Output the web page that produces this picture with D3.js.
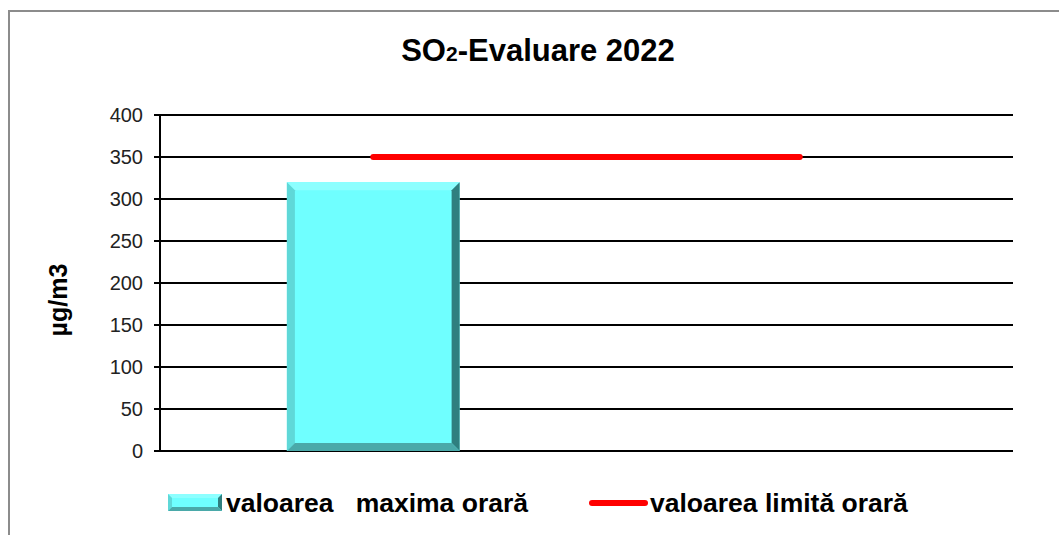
<!DOCTYPE html>
<meta charset="utf-8">
<style type="text/css">
body { margin: 0; background: #fff; }
svg text { font-family: 'Liberation Sans', Arial, sans-serif; fill: #000; }
.tick-label { font-size: 20px; fill: #222; }
.g-hed { font-size: 31px; font-weight: bold; }
.legend-text { font-size: 26.5px; font-weight: bold; }
</style>
<script src="https://cdnjs.cloudflare.com/ajax/libs/d3/7.8.5/d3.min.js"></script>
<body>
<div class="g-chart"></div>
<script type="text/javascript">

//Chart data
var categories = ["A", "B"];
var maxValues = [320, null];
var limitValues = [350, 350];
var yTicks = [0, 50, 100, 150, 200, 250, 300, 350, 400];
var seriesNames = ["valoarea   maxima orară", "valoarea limită orară"];

var width = 1059, height = 535;
var plot = {left: 160, right: 1013, top: 115, bottom: 451};

var svg = d3.select(".g-chart").append("svg")
  .attr("width", width)
  .attr("height", height);

//Frame (only left and top edges visible)
svg.append("rect")
  .attr("x", 9).attr("y", 11)
  .attr("width", 1100).attr("height", 600)
  .attr("fill", "#fff")
  .attr("stroke", "#8c8c8c")
  .attr("stroke-width", 2);

//Scales
var x = d3.scaleBand().domain(categories).range([plot.left, plot.right]);
var y = d3.scaleLinear().domain([0, 400]).range([plot.bottom, plot.top]);

//Title
var hed = svg.append("text")
  .attr("class", "g-hed")
  .attr("x", 538).attr("y", 61)
  .attr("text-anchor", "middle");
hed.append("tspan").text("SO");
hed.append("tspan").attr("font-size", "21px").text("2");
hed.append("tspan").text("-Evaluare 2022");

//Gridlines
svg.append("g")
  .selectAll("line")
  .data(yTicks)
  .enter().append("line")
  .attr("x1", plot.left - 6)
  .attr("x2", plot.right)
  .attr("y1", function(d) { return y(d); })
  .attr("y2", function(d) { return y(d); })
  .attr("stroke", "#000")
  .attr("stroke-width", 2);

//Tick labels
svg.append("g")
  .selectAll("text")
  .data(yTicks)
  .enter().append("text")
  .attr("class", "tick-label")
  .attr("x", plot.left - 17)
  .attr("y", function(d) { return y(d) + 7; })
  .attr("text-anchor", "end")
  .text(function(d) { return d; });

//Y axis line
svg.append("line")
  .attr("x1", plot.left).attr("x2", plot.left)
  .attr("y1", y(400)).attr("y2", y(0))
  .attr("stroke", "#000")
  .attr("stroke-width", 2);

//Y axis title
svg.append("text")
  .attr("transform", "translate(67,300) rotate(-90)")
  .attr("text-anchor", "middle")
  .attr("font-size", "25px")
  .attr("font-weight", "bold")
  .text("µg/m3");

//Bevelled bar
function bevel(g, x0, y0, w, h, b) {
  var x1 = x0 + w, y1 = y0 + h;
  g.append("rect").attr("x", x0).attr("y", y0).attr("width", w).attr("height", h).attr("fill", "#6fffff");
  // top
  g.append("polygon").attr("points", [[x0, y0], [x1, y0], [x1 - b, y0 + b], [x0 + b, y0 + b]].join(" ")).attr("fill", "#8dffff");
  // left
  g.append("polygon").attr("points", [[x0, y0], [x0 + b, y0 + b], [x0 + b, y1 - b], [x0, y1]].join(" ")).attr("fill", "#5fd8d8");
  // right
  g.append("polygon").attr("points", [[x1, y0], [x1, y1], [x1 - b, y1 - b], [x1 - b, y0 + b]].join(" ")).attr("fill", "#2f7f7f");
  // bottom
  g.append("polygon").attr("points", [[x0, y1], [x0 + b, y1 - b], [x1 - b, y1 - b], [x1, y1]].join(" ")).attr("fill", "#4aa9a9");
}

var barW = x.bandwidth() * 0.405;
maxValues.forEach(function(v, i) {
  if (v == null) return;
  var cx = x(categories[i]) + x.bandwidth() / 2;
  bevel(svg.append("g"), cx - barW / 2, y(v), barW, y(0) - y(v), 8);
});

//Limit line
var line = d3.line()
  .x(function(d, i) { return x(categories[i]) + x.bandwidth() / 2; })
  .y(function(d) { return y(d); });

svg.append("path")
  .datum(limitValues)
  .attr("d", line)
  .attr("fill", "none")
  .attr("stroke", "#ff0000")
  .attr("stroke-width", 6)
  .attr("stroke-linecap", "round");

//Legend
var lg = svg.append("g");
bevel(lg, 168, 494, 54, 17, 4);
lg.append("text").attr("class", "legend-text").attr("x", 226).attr("y", 512).attr("xml:space", "preserve").style("white-space", "pre").text(seriesNames[0]);
lg.append("line")
  .attr("x1", 592).attr("x2", 645)
  .attr("y1", 503).attr("y2", 503)
  .attr("stroke", "#ff0000")
  .attr("stroke-width", 6)
  .attr("stroke-linecap", "round");
lg.append("text").attr("class", "legend-text").attr("x", 650).attr("y", 512).text(seriesNames[1]);

</script>
</body>
